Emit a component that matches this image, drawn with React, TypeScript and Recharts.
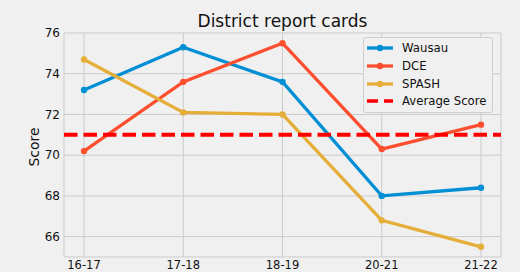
import React from "react";
import {
  LineChart,
  Line,
  XAxis,
  YAxis,
  CartesianGrid,
  ReferenceLine,
  Legend,
} from "recharts";

const YEARS = ["16-17", "17-18", "18-19", "20-21", "21-22"];
const WAUSAU = [73.2, 75.3, 73.6, 68.0, 68.4];
const DCE = [70.2, 73.6, 75.5, 70.3, 71.5];
const SPASH = [74.7, 72.1, 72.0, 66.8, 65.5];
const AVERAGE_SCORE = 71;
const Y_TICKS = [66, 68, 70, 72, 74, 76];

const FONT = "'DejaVu Sans', sans-serif";
const BG = "#f0f0f0";

const SERIES = [
  { key: "wausau", label: "Wausau", color: "#008fd5" },
  { key: "dce", label: "DCE", color: "#fc4f30" },
  { key: "spash", label: "SPASH", color: "#e5ae38" },
];

const data = YEARS.map((year, i) => ({
  year,
  wausau: WAUSAU[i],
  dce: DCE[i],
  spash: SPASH[i],
}));

function LegendBox() {
  const row = (key: string, handle: React.ReactNode, label: string) => (
    <div
      key={key}
      style={{ display: "flex", alignItems: "center", height: 17.7, whiteSpace: "nowrap" }}
    >
      <svg width={26} height={10} style={{ marginRight: 9, flex: "none" }}>
        {handle}
      </svg>
      <span>{label}</span>
    </div>
  );
  return (
    <div
      style={{
        border: "1px solid #cfcfcf",
        borderRadius: 3,
        background: BG,
        padding: "1.5px 0 1.5px 3px",
        fontFamily: FONT,
        fontSize: 11.7,
        color: "#111",
        width: 130,
        boxSizing: "border-box",
      }}
    >
      {SERIES.map((s) =>
        row(
          s.key,
          <>
            <line x1={0} y1={5} x2={26} y2={5} stroke={s.color} strokeWidth={3.3} />
            <circle cx={13} cy={5} r={3.2} fill={s.color} />
          </>,
          s.label
        )
      )}
      {row(
        "avg",
        <line
          x1={0}
          y1={5}
          x2={26}
          y2={5}
          stroke="#ff0000"
          strokeWidth={3.5}
          strokeDasharray="11 6"
        />,
        "Average Score"
      )}
    </div>
  );
}

export default function App() {
  return (
    <div
      style={{
        position: "absolute",
        left: 0,
        top: 0,
        width: 520,
        height: 272,
        background: BG,
        overflow: "hidden",
      }}
    >
      <div
        style={{
          position: "absolute",
          left: 64,
          top: 11,
          width: 437,
          textAlign: "center",
          fontFamily: FONT,
          fontSize: 17,
          lineHeight: "20px",
          color: "#111",
          zIndex: 2,
        }}
      >
        District report cards
      </div>
      <LineChart
        width={520}
        height={272}
        data={data}
        margin={{ top: 33, right: 19, bottom: 0, left: 0 }}
        style={{ fontFamily: FONT }}
      >
        <CartesianGrid stroke="#cbcbcb" strokeWidth={1} />
        <XAxis
          dataKey="year"
          padding={{ left: 20, right: 20 }}
          axisLine={false}
          tickLine={false}
          tickSize={0}
          tickMargin={4}
          height={15}
          interval={0}
          tick={{ fontSize: 11.5, fill: "#111" }}
        />
        <YAxis
          type="number"
          domain={[65, 76]}
          ticks={Y_TICKS}
          axisLine={false}
          tickLine={false}
          tickSize={0}
          tickMargin={4}
          width={64}
          tick={{ fontSize: 12, fill: "#111" }}
          label={{
            value: "Score",
            angle: -90,
            position: "center",
            dx: 2,
            dy: 2,
            style: { fontSize: 14, fill: "#111" },
          }}
        />
        {SERIES.map((s) => (
          <Line
            key={s.key}
            dataKey={s.key}
            name={s.label}
            stroke={s.color}
            strokeWidth={3.3}
            dot={{ r: 3.2, fill: s.color, stroke: "none" }}
            activeDot={false}
            isAnimationActive={false}
          />
        ))}
        <ReferenceLine
          y={AVERAGE_SCORE}
          stroke="#ff0000"
          strokeWidth={4}
          strokeDasharray="13.5 6"
        />
        <Legend
          layout="horizontal"
          verticalAlign="middle"
          align="center"
          content={() => <LegendBox />}
          wrapperStyle={{ top: 37, left: 363, width: 130 }}
        />
      </LineChart>
    </div>
  );
}
